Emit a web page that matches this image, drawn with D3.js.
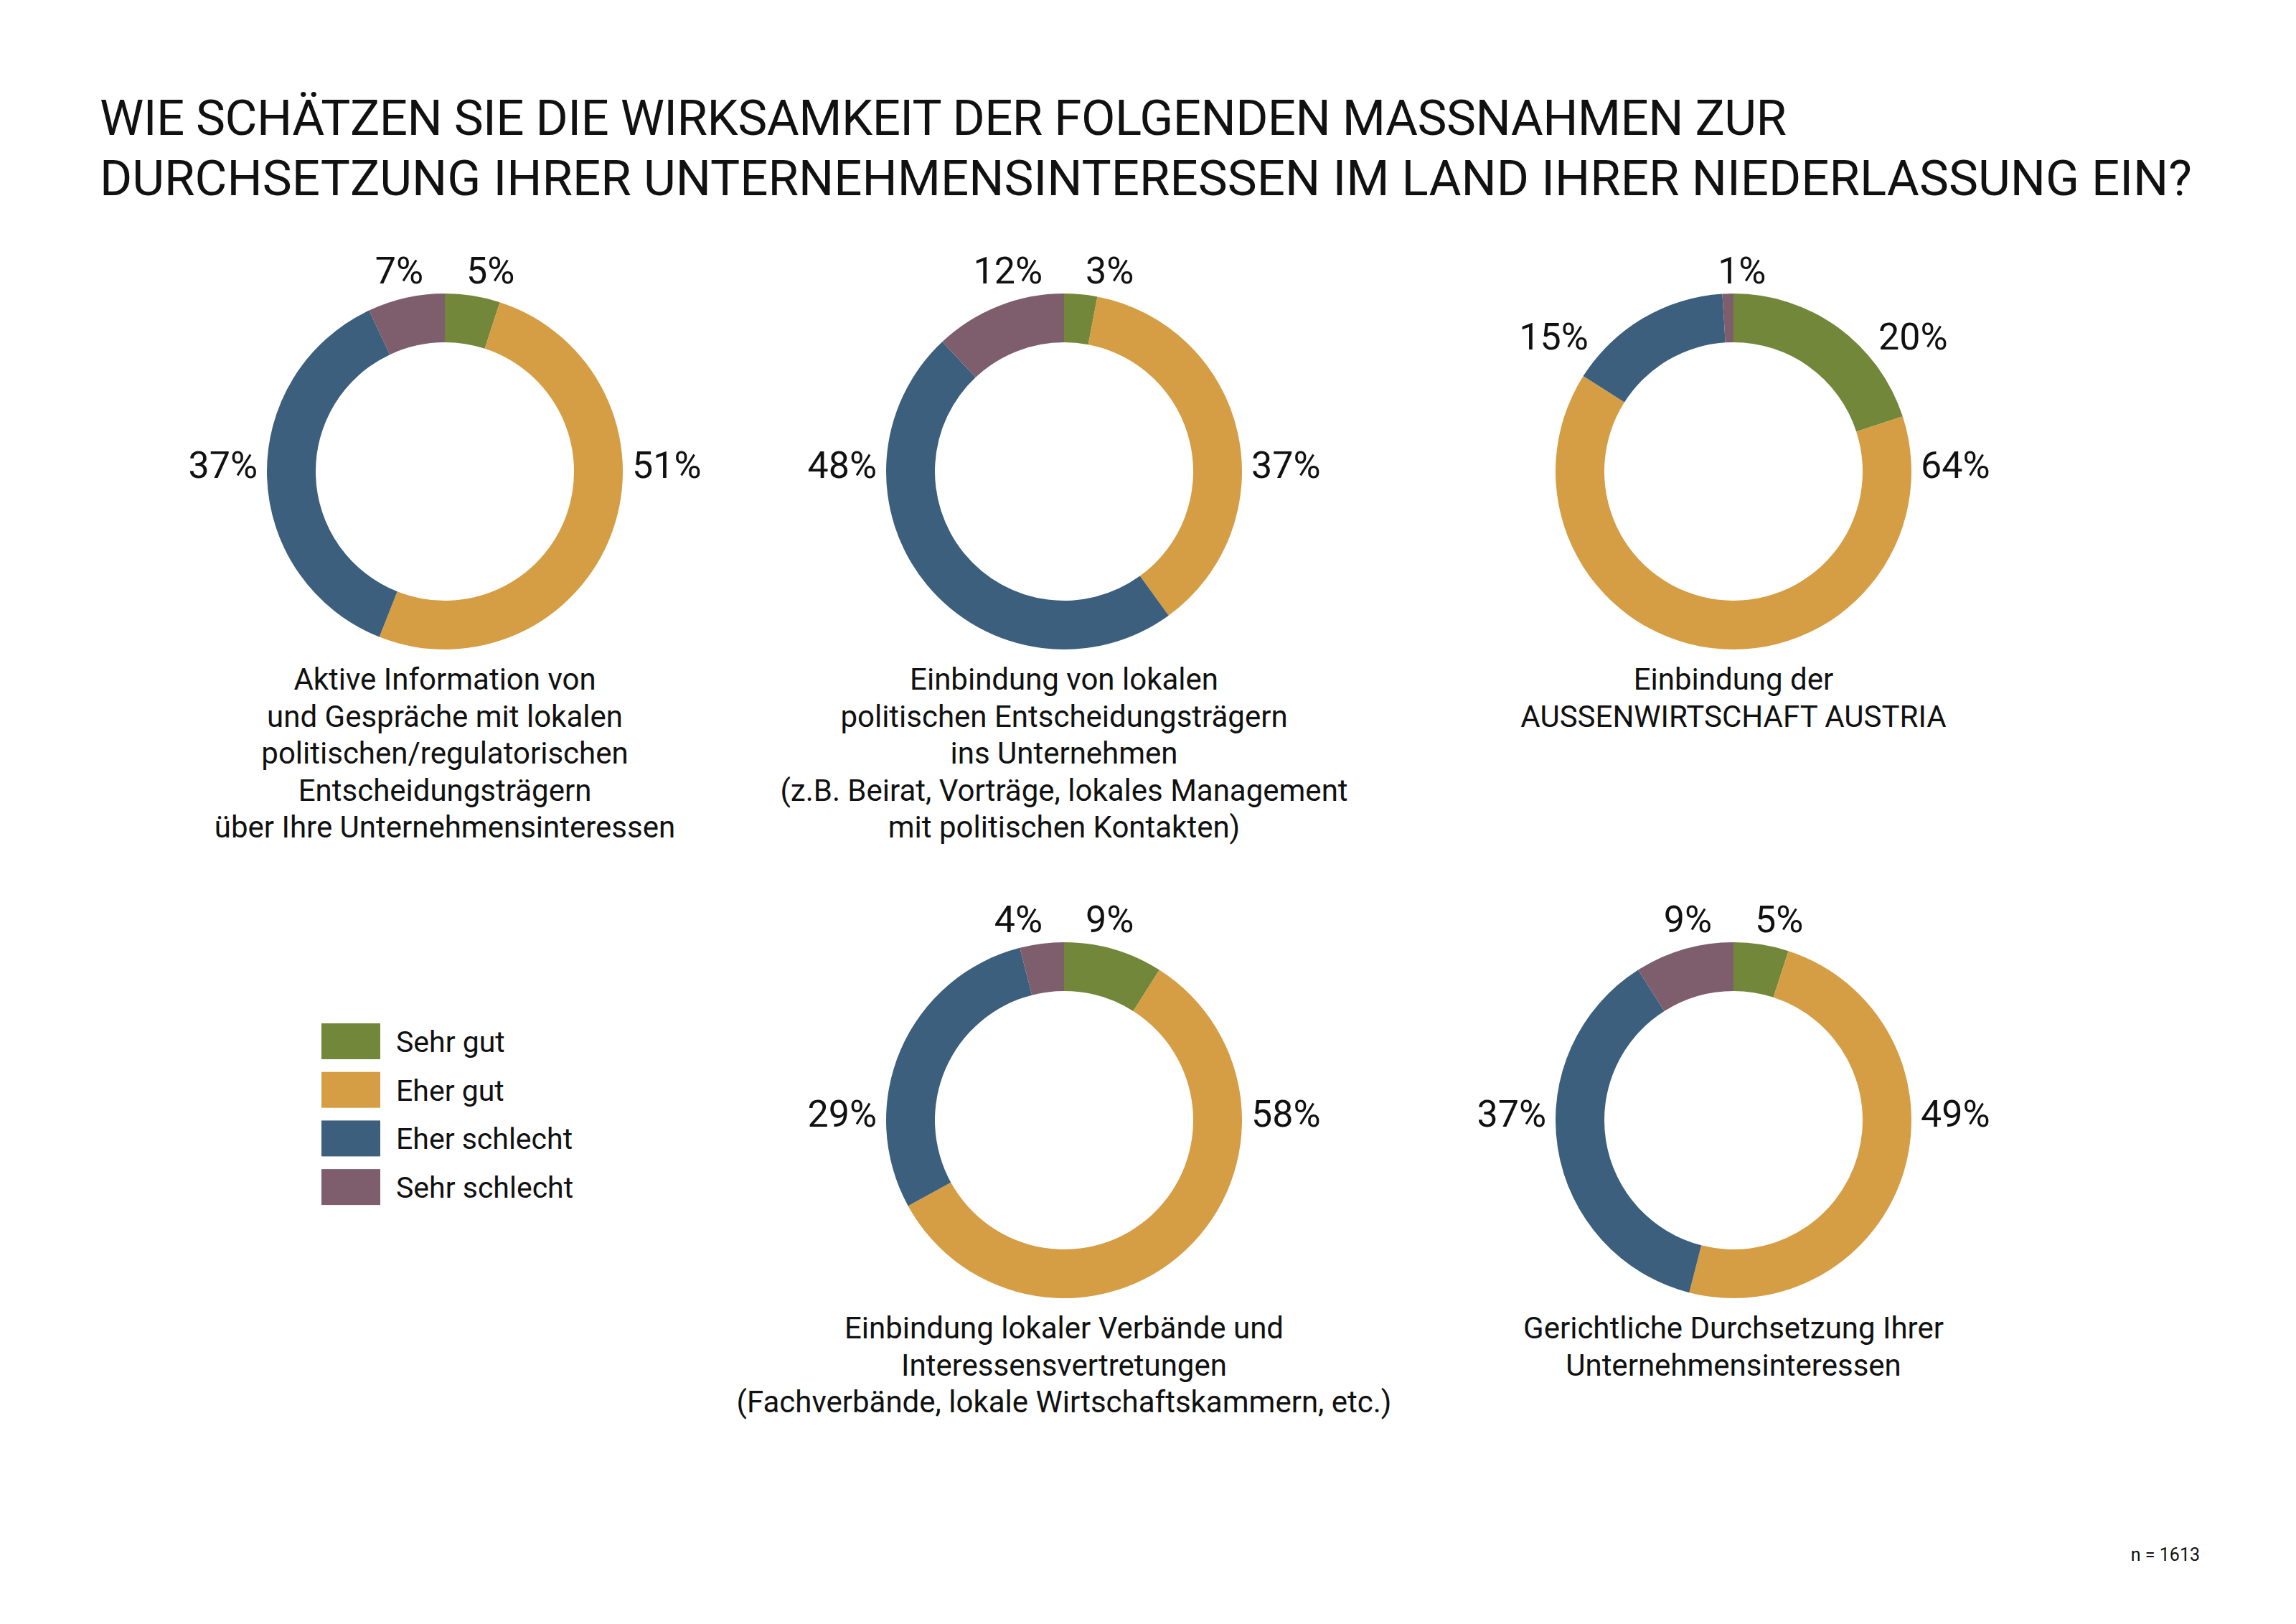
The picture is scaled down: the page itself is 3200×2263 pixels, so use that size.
<!DOCTYPE html>
<html>
<head>
<meta charset="utf-8">
<script src="https://cdn.jsdelivr.net/npm/d3@7"></script>
<style>
  html, body { margin: 0; padding: 0; background: #fff; }
  text { font-family: Roboto, "Noto Sans", sans-serif; fill: #111; }
</style>
</head>
<body>
<svg id="chart" width="3200" height="2263"></svg>
<script>
// answer categories and their colours
const categories = ['Sehr gut', 'Eher gut', 'Eher schlecht', 'Sehr schlecht'];
const colors = ['#73873a', '#d59e45', '#3c5f7e', '#7e5e6d'];

// share of answers per measure, in percent
const aktiveInformation = [5, 51, 37, 7];
const einbindungEntscheider = [3, 37, 48, 12];
const aussenwirtschaft = [20, 64, 15, 1];
const verbaende = [9, 58, 29, 4];
const gerichtlich = [5, 49, 37, 9];

// captions under each donut
const captionAktive = ['Aktive Information von', 'und Gespräche mit lokalen', 'politischen/regulatorischen', 'Entscheidungsträgern', 'über Ihre Unternehmensinteressen'];
const captionEinbindung = ['Einbindung von lokalen', 'politischen Entscheidungsträgern', 'ins Unternehmen', '(z.B. Beirat, Vorträge, lokales Management', 'mit politischen Kontakten)'];
const captionAussen = ['Einbindung der', 'AUSSENWIRTSCHAFT AUSTRIA'];
const captionVerbaende = ['Einbindung lokaler Verbände und', 'Interessensvertretungen', '(Fachverbände, lokale Wirtschaftskammern, etc.)'];
const captionGericht = ['Gerichtliche Durchsetzung Ihrer', 'Unternehmensinteressen'];

const titleLines = [
  'WIE SCHÄTZEN SIE DIE WIRKSAMKEIT DER FOLGENDEN MASSNAHMEN ZUR',
  'DURCHSETZUNG IHRER UNTERNEHMENSINTERESSEN IM LAND IHRER NIEDERLASSUNG EIN?'
];
const titleWidths = [2351, 2916];
const footnote = 'n = 1613';

const charts = [
  { values: aktiveInformation, caption: captionAktive, col: 0, row: 0 },
  { values: einbindungEntscheider, caption: captionEinbindung, col: 1, row: 0 },
  { values: aussenwirtschaft, caption: captionAussen, col: 2, row: 0 },
  { values: verbaende, caption: captionVerbaende, col: 1, row: 1 },
  { values: gerichtlich, caption: captionGericht, col: 2, row: 1 }
];

const svg = d3.select('#chart');

// layout scales
const colX = d3.scaleOrdinal().domain([0, 1, 2]).range([620, 1483, 2416]);
const rowY = d3.scaleOrdinal().domain([0, 1]).range([657, 1561]);
const color = d3.scaleOrdinal().domain(categories).range(colors);

const outerR = 248, innerR = 180;
const labelSize = 52, captionSize = 42, lineGap = 51.5;

const pie = d3.pie().sort(null).value(d => d.value);
const arc = d3.arc().innerRadius(innerR).outerRadius(outerR);

// title, font size fitted to the second line, each line stretched to its width
const title = svg.append('g');
title.selectAll('text')
  .data(titleLines)
  .join('text')
  .attr('x', 139)
  .attr('y', (d, i) => 188 + i * 84)
  .attr('font-size', 100)
  .text(d => d);
const w2 = title.selectAll('text').nodes()[1].getComputedTextLength();
title.selectAll('text')
  .attr('font-size', 100 * titleWidths[1] / w2)
  .attr('textLength', (d, i) => titleWidths[i])
  .attr('lengthAdjust', 'spacing');

function deg(a) { return a * 180 / Math.PI; }

// pick where a percentage label goes around the ring
function labelSlot(d) {
  const a0 = deg(d.startAngle), a1 = deg(d.endAngle), m = (a0 + a1) / 2;
  if (a0 <= 90 && a1 >= 90) return 'right';
  if (a0 <= 270 && a1 >= 270) return 'left';
  if (a1 - a0 < 7.2) return 'top';
  if (m < 22.5) return 'topRight';
  if (m < 90) return 'upperRight';
  if (m > 337.5) return 'topLeft';
  return 'upperLeft';
}

function labelPos(d) {
  const slot = labelSlot(d);
  const m = (d.startAngle + d.endAngle) / 2;
  const topY = -outerR - 14;
  switch (slot) {
    case 'right': return { x: outerR + 13, y: 9, anchor: 'start' };
    case 'left': return { x: -outerR - 13, y: 9, anchor: 'end' };
    case 'topRight': return { x: 30, y: topY, anchor: 'start' };
    case 'topLeft': return { x: -30, y: topY, anchor: 'end' };
    case 'upperRight': return { x: outerR * 0.815, y: -170, anchor: 'start' };
    case 'upperLeft': return { x: -outerR * 0.815, y: -170, anchor: 'end' };
    default: return { x: (outerR + 14) * Math.sin(m) + 20, y: topY, anchor: 'middle' };
  }
}

charts.forEach(c => {
  const g = svg.append('g')
    .attr('transform', `translate(${colX(c.col)},${rowY(c.row)})`);
  const arcs = pie(c.values.map((v, i) => ({ cat: categories[i], value: v })));

  g.selectAll('path')
    .data(arcs)
    .join('path')
    .attr('d', arc)
    .attr('fill', d => color(d.data.cat));

  g.selectAll('text.pct')
    .data(arcs)
    .join('text')
    .attr('class', 'pct')
    .attr('font-size', labelSize)
    .each(function (d) {
      const p = labelPos(d);
      d3.select(this).attr('x', p.x).attr('y', p.y).attr('text-anchor', p.anchor);
    })
    .text(d => d.data.value + '%');

  g.selectAll('text.cap')
    .data(c.caption)
    .join('text')
    .attr('class', 'cap')
    .attr('font-size', captionSize)
    .attr('text-anchor', 'middle')
    .attr('x', 0)
    .attr('y', (d, i) => outerR + 56 + i * lineGap)
    .text(d => d);
});

// legend
const legend = svg.append('g').attr('transform', 'translate(448,1426)');
const item = legend.selectAll('g')
  .data(categories)
  .join('g')
  .attr('transform', (d, i) => `translate(0,${i * 67.7})`);
item.append('rect')
  .attr('width', 82)
  .attr('height', 50)
  .attr('fill', d => color(d));
item.append('text')
  .attr('x', 104)
  .attr('y', 40)
  .attr('font-size', 41)
  .text(d => d);

svg.append('text')
  .attr('x', 3066)
  .attr('y', 2175)
  .attr('text-anchor', 'end')
  .attr('font-size', 25)
  .text(footnote);
</script>
</body>
</html>
